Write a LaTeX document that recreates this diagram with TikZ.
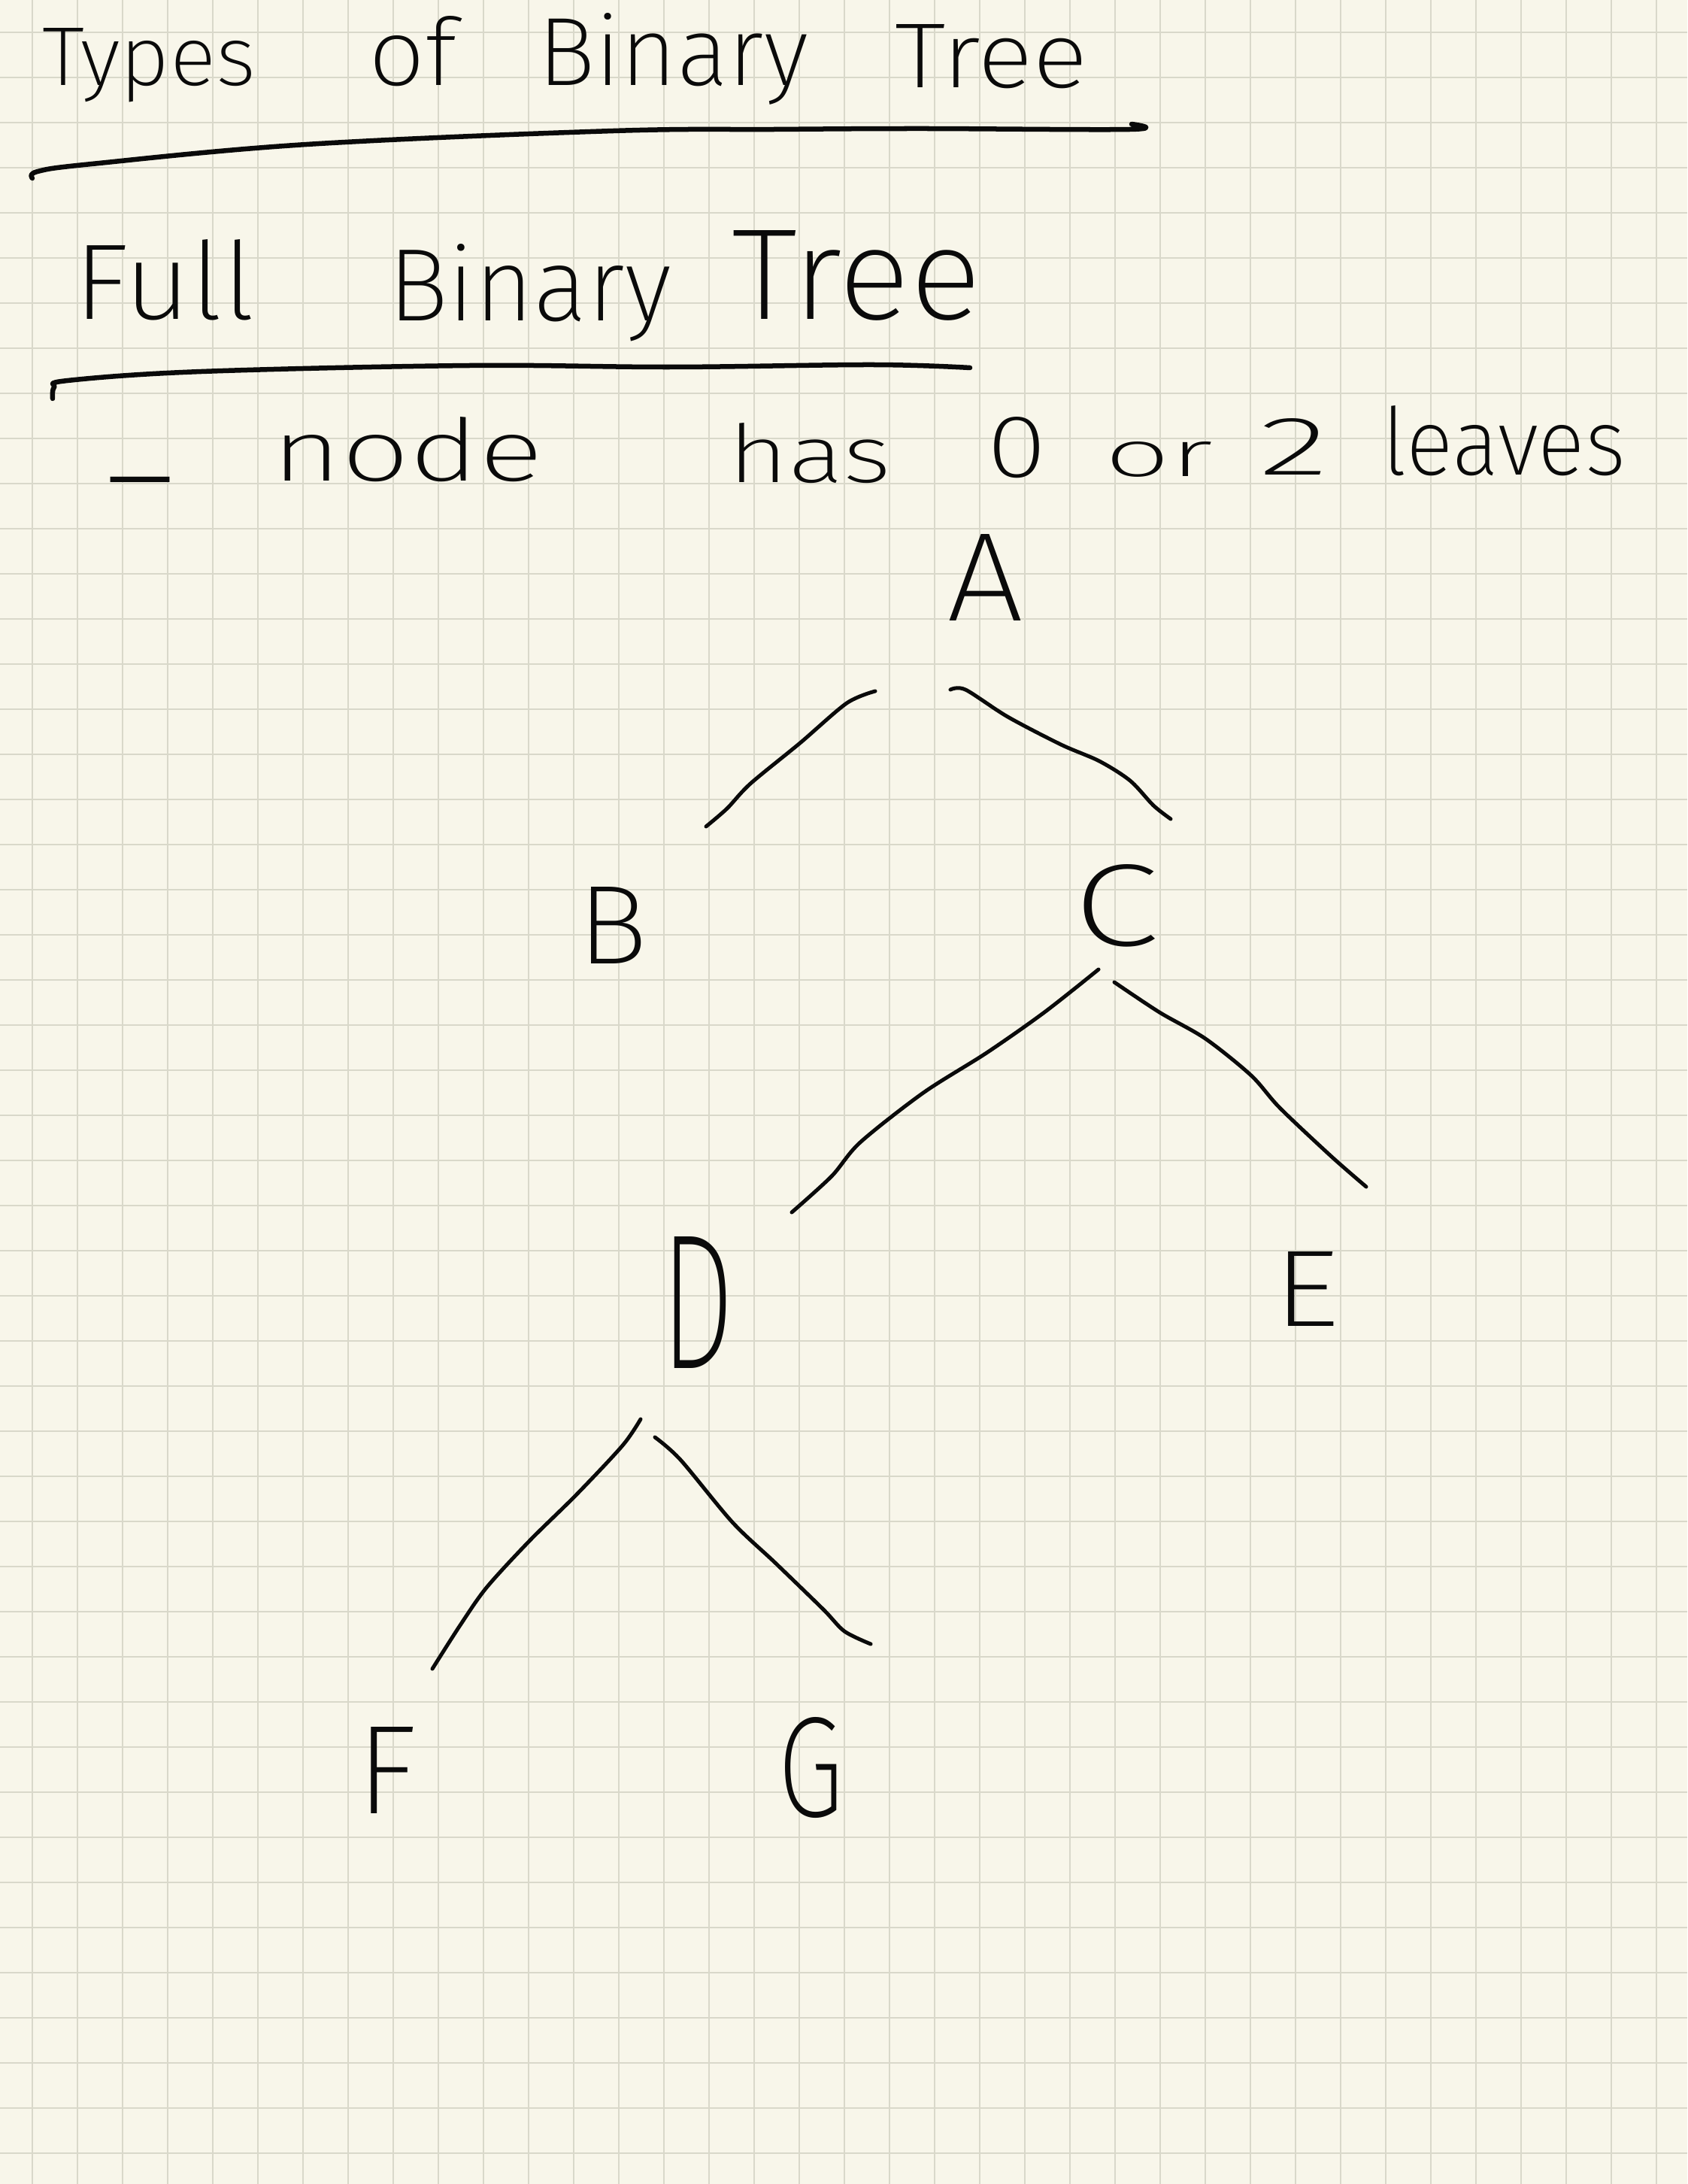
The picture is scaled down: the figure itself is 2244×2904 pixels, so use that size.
\documentclass[tikz,border=0pt]{standalone}
\usepackage{fontspec}
\usepackage{graphicx}
\IfFontExistsTF{Fira Sans ExtraLight}{\newfontfamily\hand{Fira Sans ExtraLight}}{%
  \IfFontExistsTF{Fira Sans Light}{\newfontfamily\hand{Fira Sans Light}}{\newfontfamily\hand{Fira Sans}}}
\newlength\pxu
\setlength\pxu{0.01cm}
\newcommand\hw[3]{\resizebox{#1\pxu}{#2\pxu}{\hand #3}}
\definecolor{paper}{HTML}{F8F6EA}
\definecolor{gridc}{HTML}{D9D8CA}
\definecolor{ink}{HTML}{0A0A0A}
\begin{document}
\begin{tikzpicture}[x=0.01cm,y=-0.01cm,
  word/.style={inner sep=0pt,outer sep=0pt,anchor=base west,text=ink},
  letter/.style={inner sep=0pt,outer sep=0pt,text=ink},
  edge/.style={draw=ink,line width=0.05cm,line cap=round,line join=round},
  uline/.style={draw=ink,line width=0.065cm,line cap=round,line join=round},
  gridline/.style={draw=gridc,line width=0.022cm}]
\useasboundingbox (0,0) rectangle (2244,2904);
\fill[paper] (0,0) rectangle (2244,2904);
\foreach \i in {0,...,36} \draw[gridline] ({42.7+60*\i},0) -- ({42.7+60*\i},2904);
\foreach \j in {0,...,47} \draw[gridline] (0,{42.7+60*\j}) -- (2244,{42.7+60*\j});

% title
\node[word] (t1) at (56,114) {\hw{284}{76}{Types}};
\node[word] (t2) at (490,114) {\hw{117}{92}{of}};
\node[word] (t3) at (715,114) {\hw{360}{96}{Binary}};
\node[word] (t4) at (1190,117) {\hw{257}{84}{Tree}};
\coordinate (u1s) at (43,237);
\coordinate (u1e) at (1505,165);
\draw[uline] plot[smooth,tension=0.6] coordinates {(u1s) (50,228) (122,218) (408,192) (816,174) (1031,172) (1224,171) (1503,172) (u1e)};

% subtitle
\node[word] (s1) at (98,425) {\hw{241}{106}{Full}};
\node[word] (s2) at (516,427) {\hw{377}{102}{Binary}};
\node[word] (s3) at (973,425) {\hw{332}{118}{Tree}};
\coordinate (u2s) at (70,530);
\coordinate (u2e) at (1290,489);
\draw[uline] plot[smooth,tension=0.6] coordinates {(u2s) (72,515) (90,506) (268,494) (625,486) (893,488) (1161,485) (u2e)};

% line 3
\node[letter] (dash) at (187,664) {\resizebox{94\pxu}{!}{\hand –}};
\node[word] (w1) at (361,640) {\hw{362}{85}{node}};
\node[word] (w2) at (968,642) {\hw{217}{79}{has}};
\node[word] (w3) at (1312,635) {\hw{80}{80}{0}};
\node[word] (w4) at (1469,634) {\hw{144}{46}{or}};
\node[word] (w5) at (1674,632) {\hw{93}{75}{2}};
\node[word] (w6) at (1838,632) {\hw{324}{92}{leaves}};

% tree nodes
\node[letter] (A) at (1310,768) {\hw{102}{115}{A}};
\node[letter] (B) at (815,1230) {\hw{93}{102}{B}};
\node[letter] (C) at (1484,1204) {\hw{114}{108}{C}};
\node[letter] (D) at (928,1732) {\hw{97}{175}{D}};
\node[letter] (E) at (1737,1714) {\hw{88}{99}{E}};
\node[letter] (F) at (514,2354) {\hw{80}{115}{F}};
\node[letter] (G) at (1078,2350) {\hw{88}{132}{G}};

% connectors
\coordinate (AB1) at (1164,919);
\coordinate (AB2) at (939,1099);
\draw[edge] plot[smooth,tension=0.5] coordinates {(AB1) (1126,935) (1064,988) (998,1042) (967,1075) (AB2)};
\coordinate (AC1) at (1264,917);
\coordinate (AC2) at (1557,1089);
\draw[edge] plot[smooth,tension=0.5] coordinates {(AC1) (1284,917) (1340,953) (1411,990) (1462,1012) (1503,1038) (1534,1071) (AC2)};
\coordinate (CD1) at (1461,1289);
\coordinate (CD2) at (1053,1612);
\draw[edge] plot[smooth,tension=0.5] coordinates {(CD1) (1389,1346) (1312,1400) (1228,1453) (1144,1519) (1106,1564) (CD2)};
\coordinate (CE1) at (1482,1306);
\coordinate (CE2) at (1817,1578);
\draw[edge] plot[smooth,tension=0.5] coordinates {(CE1) (1542,1346) (1603,1381) (1664,1430) (1702,1473) (1771,1538) (CE2)};
\coordinate (DF1) at (852,1887);
\coordinate (DF2) at (575,2219);
\draw[edge] plot[smooth,tension=0.5] coordinates {(DF1) (828,1922) (767,1987) (704,2049) (647,2111) (612,2161) (DF2)};
\coordinate (DG1) at (871,1911);
\coordinate (DG2) at (1158,2186);
\draw[edge] plot[smooth,tension=0.5] coordinates {(DG1) (905,1941) (974,2024) (1031,2078) (1095,2140) (1123,2169) (DG2)};
\end{tikzpicture}
\end{document}
